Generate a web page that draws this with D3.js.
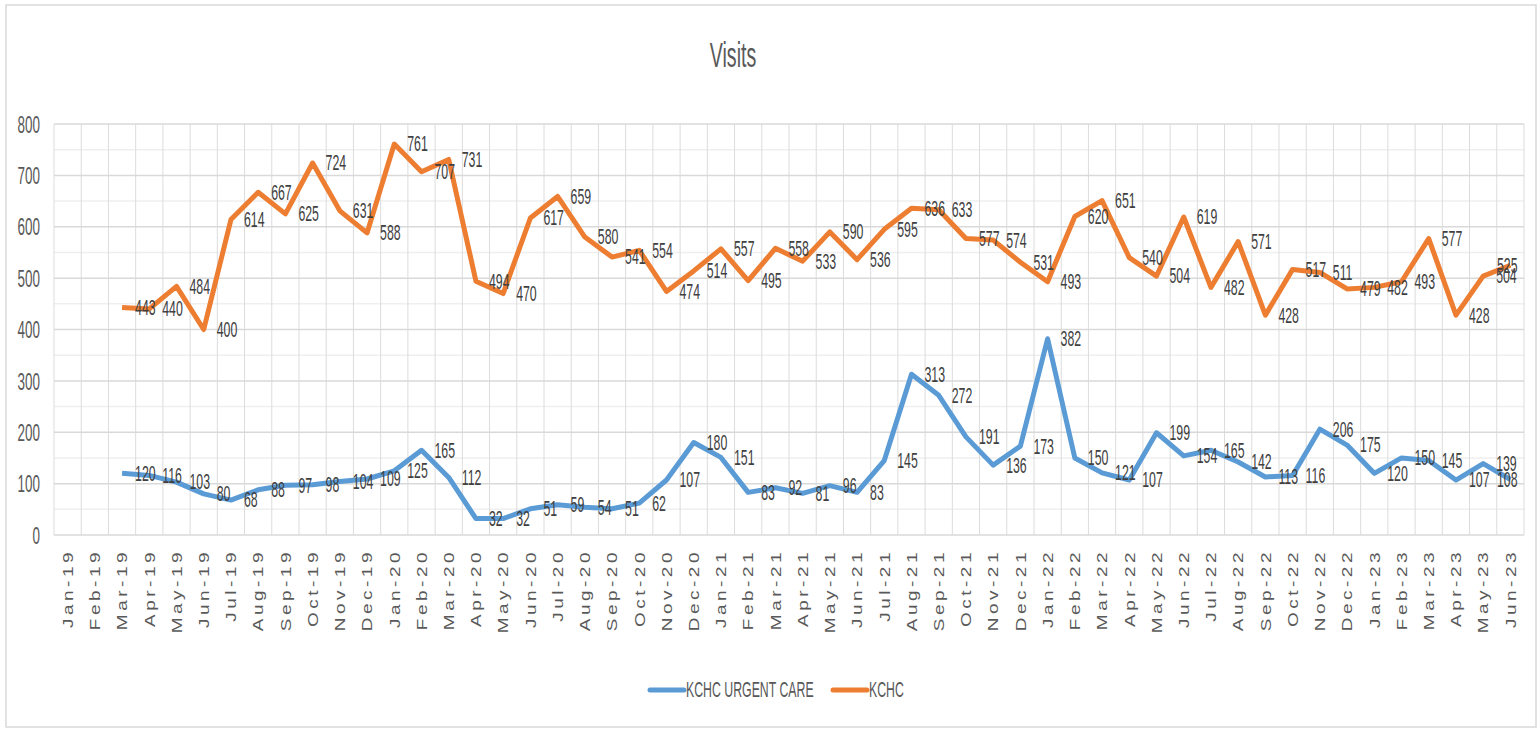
<!doctype html>
<html>
<head>
<meta charset="utf-8">
<script src="https://d3js.org/d3.v7.min.js"></script>
<style>
  body { margin: 0; background: #fff; }
  svg { display: block; }
  text { font-family: "Liberation Sans", Arial, sans-serif; }
</style>
</head>
<body>
<svg id="chart" width="1540" height="731"></svg>
<script>
// months on the category axis
var months = ["Jan-19","Feb-19","Mar-19","Apr-19","May-19","Jun-19","Jul-19","Aug-19","Sep-19","Oct-19","Nov-19","Dec-19",
  "Jan-20","Feb-20","Mar-20","Apr-20","May-20","Jun-20","Jul-20","Aug-20","Sep-20","Oct-20","Nov-20","Dec-20",
  "Jan-21","Feb-21","Mar-21","Apr-21","May-21","Jun-21","Jul-21","Aug-21","Sep-21","Oct-21","Nov-21","Dec-21",
  "Jan-22","Feb-22","Mar-22","Apr-22","May-22","Jun-22","Jul-22","Aug-22","Sep-22","Oct-22","Nov-22","Dec-22",
  "Jan-23","Feb-23","Mar-23","Apr-23","May-23","Jun-23"];

// KCHC URGENT CARE (no data for Jan-19, Feb-19)
var urgentCare = [null, null, 120, 116, 103, 80, 68, 88, 97, 98, 104, 109,
  125, 165, 112, 32, 32, 51, 59, 54, 51, 62, 107, 180,
  151, 83, 92, 81, 96, 83, 145, 313, 272, 191, 136, 173,
  382, 150, 121, 107, 199, 154, 165, 142, 113, 116, 206, 175,
  120, 150, 145, 107, 139, 108];

// KCHC
var kchc = [null, null, 443, 440, 484, 400, 614, 667, 625, 724, 631, 588,
  761, 707, 731, 494, 470, 617, 659, 580, 541, 554, 474, 514,
  557, 495, 558, 533, 590, 536, 595, 636, 633, 577, 574, 531,
  493, 620, 651, 540, 504, 619, 482, 571, 428, 517, 511, 479,
  482, 493, 577, 428, 504, 525];

var yTicks = [0, 100, 200, 300, 400, 500, 600, 700, 800];
var minorTicks = [50, 150, 250, 350, 450, 550, 650, 750];

var seriesNames = ["KCHC URGENT CARE", "KCHC"];
var seriesColors = ["#5B9BD5", "#ED7D31"];

var sx = 0.56; // the picture is squeezed horizontally

var svg = d3.select("#chart");

var plotLeft = 54, plotRight = 1524, plotTop = 124, plotBottom = 535;

var x = d3.scaleBand().domain(months).range([plotLeft, plotRight]).padding(0);
var y = d3.scaleLinear().domain([0, 800]).range([plotBottom, plotTop]);
var cx = function(m) { return x(m) + x.bandwidth() / 2; };

// outer chart border
svg.append("rect")
  .attr("x", 6).attr("y", 5).attr("width", 1530).attr("height", 722)
  .attr("fill", "none").attr("stroke", "#d9d9d9").attr("stroke-width", 1.5);

// title
svg.append("text")
  .attr("transform", "translate(733,67) scale(" + sx + ",1)")
  .attr("text-anchor", "middle")
  .attr("font-size", 35)
  .attr("fill", "#595959")
  .text("Visits");

// minor horizontal gridlines
svg.append("g").selectAll("line").data(minorTicks).enter().append("line")
  .attr("x1", plotLeft).attr("x2", plotRight)
  .attr("y1", d => y(d)).attr("y2", d => y(d))
  .attr("stroke", "#efefef").attr("stroke-width", 1.5);

// vertical gridlines at category boundaries
var bounds = months.map(m => x(m)).concat([plotRight]);
svg.append("g").selectAll("line").data(bounds).enter().append("line")
  .attr("x1", d => d).attr("x2", d => d)
  .attr("y1", plotTop).attr("y2", plotBottom)
  .attr("stroke", "#dcdcdc").attr("stroke-width", 1);

// major horizontal gridlines
svg.append("g").selectAll("line").data(yTicks).enter().append("line")
  .attr("x1", plotLeft).attr("x2", plotRight)
  .attr("y1", d => y(d)).attr("y2", d => y(d))
  .attr("stroke", "#d9d9d9").attr("stroke-width", 1.5);

// y tick labels
svg.append("g").selectAll("text").data(yTicks).enter().append("text")
  .attr("transform", d => "translate(40," + y(d) + ") scale(" + sx + ",1)")
  .attr("text-anchor", "end")
  .attr("dominant-baseline", "central")
  .attr("font-size", 24)
  .attr("fill", "#595959")
  .text(d => d);

// x tick labels, rotated
svg.append("g").selectAll("text").data(months).enter().append("text")
  .attr("transform", d => "translate(" + cx(d) + ",549) scale(0.8,1) rotate(-90)")
  .attr("text-anchor", "end")
  .attr("dominant-baseline", "central")
  .attr("font-size", 19)
  .attr("letter-spacing", 3.5)
  .attr("fill", "#595959")
  .text(d => d);

var line = d3.line()
  .defined(d => d.v !== null)
  .x(d => cx(d.m))
  .y(d => y(d.v));

[urgentCare, kchc].forEach(function(vals, i) {
  var pts = months.map((m, j) => ({ m: m, v: vals[j] }));
  svg.append("path")
    .datum(pts)
    .attr("d", line)
    .attr("fill", "none")
    .attr("stroke", seriesColors[i])
    .attr("stroke-width", 5)
    .attr("stroke-linejoin", "round");

  // labels sit right of the point, pulled back inside at the right edge
  svg.append("g").selectAll("text").data(pts.filter(d => d.v !== null)).enter().append("text")
    .attr("transform", d => "translate(" + Math.min(cx(d.m) + 13, 1497) + "," + y(d.v) + ") scale(" + sx + ",1)")
    .attr("dominant-baseline", "central")
    .attr("font-size", 22)
    .attr("fill", "#404040")
    .text(d => d.v);
});

// legend
var legendX = [650, 833];
seriesNames.forEach(function(name, i) {
  svg.append("line")
    .attr("x1", legendX[i]).attr("x2", legendX[i] + 34)
    .attr("y1", 690).attr("y2", 690)
    .attr("stroke", seriesColors[i]).attr("stroke-width", 5)
    .attr("stroke-linecap", "round");
  svg.append("text")
    .attr("transform", "translate(" + (legendX[i] + 36) + ",690) scale(" + sx + ",1)")
    .attr("dominant-baseline", "central")
    .attr("font-size", 22)
    .attr("fill", "#595959")
    .text(name);
});
</script>
</body>
</html>
